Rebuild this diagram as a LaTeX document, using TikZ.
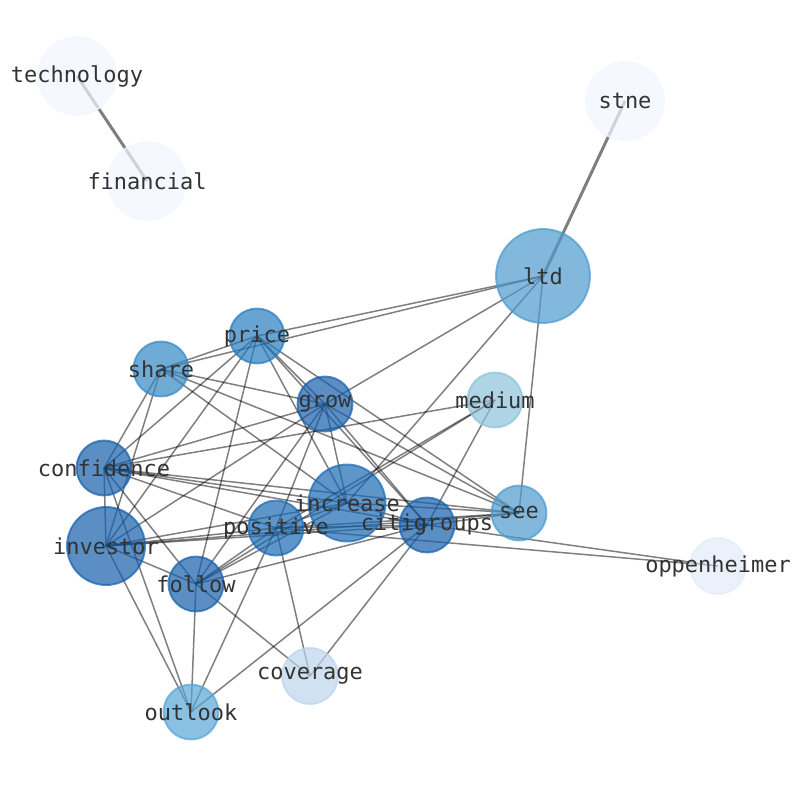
\documentclass[tikz,border=0pt]{standalone}
\usepackage{fontspec}
\setmonofont{DejaVu Sans Mono}
\usetikzlibrary{backgrounds}
\definecolor{tone0}{RGB}{241,246,255}
\definecolor{tone1}{RGB}{225,235,248}
\definecolor{tone2}{RGB}{188,212,237}
\definecolor{tone3}{RGB}{141,194,219}
\definecolor{tone4}{RGB}{89,165,214}
\definecolor{tone5}{RGB}{76,154,205}
\definecolor{tone6}{RGB}{51,136,196}
\definecolor{tone7}{RGB}{38,124,192}
\definecolor{tone8}{RGB}{26,105,179}
\definecolor{tone9}{RGB}{21,95,171}
\tikzset{
  dot/.style={circle, inner sep=0pt, fill=#1, draw=#1, fill opacity=0.7, draw opacity=0.7,
    text opacity=1, line width=1.1pt, text=black!80, font=\ttfamily\fontsize{12.5}{15}\selectfont},
  link/.style={draw=black, draw opacity=0.5, line width=0.85pt},
  heavy link/.style={link, line width=1.7pt}
}
\def\word#1{\makebox[0pt]{#1}}
\begin{document}
\begin{tikzpicture}[x=0.02cm,y=-0.02cm]
\useasboundingbox (0,0) rectangle (794,790);
\foreach \n / \x / \y / \r / \c in {technology/77/76/39/tone0, financial/147/181/39/tone0,
  stne/625/101/39/tone0, ltd/543/276/47/tone5, price/257/336/27.5/tone7, share/161/369/27.5/tone6,
  grow/325/404/27.5/tone9, medium/495/400/27.5/tone3, confidence/104/468/27.5/tone9,
  increase/347/503/38.5/tone8, citigroups/427/525/27.5/tone9, see/519/513/27.5/tone5,
  positive/276/528/27.5/tone8, investor/106/546/39/tone9, follow/196/584/27.5/tone9,
  oppenheimer/718/566/28/tone1, coverage/310/676/28/tone2, outlook/191/712/27.5/tone4}
{
\node[dot=\c, minimum size=\r*0.04cm] (\n) at (\x,\y) {\word{\n}};
}
\begin{scope}[on background layer]
\draw[heavy link] (technology.center) -- (financial.center);
\draw[heavy link] (stne.center) -- (ltd.center);
\foreach \a / \b in {ltd/price, ltd/share, ltd/grow, ltd/increase, ltd/see,
  price/share, price/grow, price/confidence, price/investor, price/follow,
  price/increase, price/citigroups, price/see,
  share/confidence, share/investor, share/grow, share/increase, share/see,
  grow/confidence, grow/investor, grow/follow, grow/positive, grow/increase,
  grow/citigroups, grow/see,
  medium/confidence, medium/positive, medium/follow, medium/citigroups,
  confidence/investor, confidence/positive, confidence/increase, confidence/citigroups,
  confidence/see, confidence/follow, confidence/outlook,
  investor/positive, investor/increase, investor/citigroups, investor/see,
  investor/follow, investor/outlook,
  follow/positive, follow/increase, follow/citigroups, follow/outlook, follow/coverage,
  positive/increase, positive/citigroups, positive/see, positive/oppenheimer,
  positive/coverage, positive/outlook,
  increase/citigroups, increase/see,
  citigroups/see, citigroups/oppenheimer, citigroups/coverage, citigroups/outlook}
{
\draw[link] (\a.center) -- (\b.center);
}
\end{scope}
\end{tikzpicture}
\end{document}
